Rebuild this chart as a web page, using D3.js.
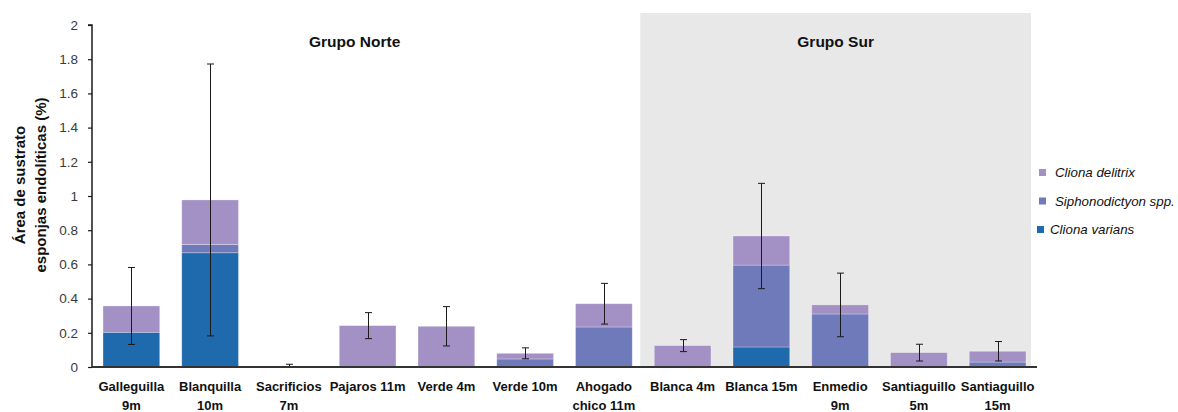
<!DOCTYPE html>
<html>
<head>
<meta charset="utf-8">
<script src="https://cdn.jsdelivr.net/npm/d3@7"></script>
<style>
  html, body { margin: 0; padding: 0; background: #fff; }
  svg { display: block; font-family: "Liberation Sans", Arial, sans-serif; }
</style>
</head>
<body>
<svg id="chart" width="1178" height="412"></svg>
<script>
// Sites (two-line labels split on "|")
const categories = [
  "Galleguilla|9m", "Blanquilla|10m", "Sacrificios|7m", "Pajaros 11m",
  "Verde 4m", "Verde 10m", "Ahogado|chico 11m", "Blanca 4m",
  "Blanca 15m", "Enmedio|9m", "Santiaguillo|5m", "Santiaguillo|15m"
];

// Endolithic sponge cover (%) per species
const clionaVarians   = [0.203, 0.668, 0.003, 0, 0, 0, 0, 0, 0.117, 0, 0, 0];
const siphonodictyon  = [0, 0.049, 0.002, 0, 0, 0.047, 0.234, 0, 0.479, 0.310, 0, 0.029];
const clionaDelitrix  = [0.154, 0.260, 0, 0.242, 0.238, 0.033, 0.136, 0.125, 0.170, 0.053, 0.084, 0.063];

// Error of the total cover
const totalError = [0.225, 0.795, 0.011, 0.076, 0.115, 0.032, 0.119, 0.035, 0.308, 0.186, 0.049, 0.057];

const yTicks = [0, 0.2, 0.4, 0.6, 0.8, 1, 1.2, 1.4, 1.6, 1.8, 2];

const seriesNames = ["Cliona varians", "Siphonodictyon spp.", "Cliona delitrix"];
const seriesColors = ["#1f69ad", "#6e7aba", "#a390c5"];

const groupNorth = "Grupo Norte";
const groupSouth = "Grupo Sur";
const southStart = "Blanca 4m";

const rows = categories.map((c, i) => ({
  cat: c,
  "Cliona varians": clionaVarians[i],
  "Siphonodictyon spp.": siphonodictyon[i],
  "Cliona delitrix": clionaDelitrix[i],
  err: totalError[i]
}));

const svg = d3.select("#chart");
const plotLeft = 92, plotRight = 1037, plotBottom = 367, plotTop = 25;

const x = d3.scaleBand().domain(categories).range([plotLeft, plotRight]).paddingInner(0.28).paddingOuter(0.14);
const y = d3.scaleLinear().domain([0, 2]).range([plotBottom, plotTop]);

// Shaded panel behind the southern group
const southIndex = categories.indexOf(southStart);
const southX = x(categories[southIndex]) - (x.step() - x.bandwidth()) / 2 - 3;
svg.append("rect")
  .attr("x", southX)
  .attr("y", y(2) - 12)
  .attr("width", plotRight - 6 - southX)
  .attr("height", y(0) - y(2) + 12)
  .attr("fill", "#e8e8e8");

// Stacked bars
const stack = d3.stack().keys(seriesNames);
const layers = stack(rows);
svg.append("g").selectAll("g")
  .data(layers)
  .join("g")
  .attr("fill", (d, i) => seriesColors[i])
  .selectAll("rect")
  .data(d => d)
  .join("rect")
  .attr("x", d => x(d.data.cat))
  .attr("width", x.bandwidth())
  .attr("y", d => y(d[1]))
  .attr("height", d => Math.max(0, y(d[0]) - y(d[1])))
  .attr("stroke", "rgba(255,255,255,0.35)")
  .attr("stroke-width", 0.8);

// Error bars centred on the stacked total
const eb = svg.append("g").attr("stroke", "#1a1a1a").attr("stroke-width", 1);
rows.forEach(r => {
  const total = seriesNames.reduce((s, k) => s + r[k], 0);
  const cx = Math.round(x(r.cat) + x.bandwidth() / 2) + 0.5;
  const y1 = y(total + r.err), y0 = y(Math.max(0, total - r.err));
  eb.append("line").attr("x1", cx).attr("x2", cx).attr("y1", y1).attr("y2", y0);
  eb.append("line").attr("x1", cx - 3.5).attr("x2", cx + 3.5).attr("y1", y1).attr("y2", y1);
  eb.append("line").attr("x1", cx - 3.5).attr("x2", cx + 3.5).attr("y1", y0).attr("y2", y0);
});

// Y axis
const yAxis = d3.axisLeft(y)
  .tickValues(yTicks)
  .tickSize(4)
  .tickPadding(10)
  .tickFormat(d => String(+d.toFixed(1)));
const gy = svg.append("g").attr("transform", `translate(${plotLeft},0)`).call(yAxis);
gy.select(".domain").attr("stroke", "#1a1a1a").attr("stroke-width", 1.5).attr("d", `M-4,${y(2)}H0V${y(0)}`);
gy.selectAll(".tick line").attr("stroke", "#1a1a1a").attr("stroke-width", 1.2);
gy.selectAll(".tick text")
  .attr("fill", "#3a3a3a")
  .style("font-size", "13.5px")
  .style("font-family", "'Liberation Sans', Arial, sans-serif");

// X axis line
const xAxis = d3.axisBottom(x).tickSize(0).tickFormat("");
const gx = svg.append("g").attr("transform", `translate(0,${plotBottom})`).call(xAxis);
gx.select(".domain").attr("stroke", "#333").attr("stroke-width", 1.8).attr("d", `M${plotLeft},0H${plotRight}`);

// Category labels
const xl = svg.append("g")
  .attr("font-size", "13px")
  .attr("font-weight", "bold")
  .attr("fill", "#111")
  .attr("text-anchor", "middle");
categories.forEach(c => {
  const cx = x(c) + x.bandwidth() / 2;
  const t = xl.append("text").attr("x", cx).attr("y", 391);
  c.split("|").forEach((part, i) => {
    t.append("tspan").attr("x", cx).attr("dy", i === 0 ? 0 : 19).text(part);
  });
});

// Group titles
const northCats = categories.slice(0, southIndex);
const southCats = categories.slice(southIndex);
const midOf = cats => (x(cats[0]) + x(cats[cats.length - 1]) + x.bandwidth()) / 2;
svg.append("text")
  .attr("x", midOf(northCats) - 13).attr("y", 47)
  .attr("text-anchor", "middle").attr("font-size", "15.5px").attr("font-weight", "bold").attr("fill", "#111")
  .text(groupNorth);
svg.append("text")
  .attr("x", midOf(southCats) - 4.5).attr("y", 47)
  .attr("text-anchor", "middle").attr("font-size", "15.5px").attr("font-weight", "bold").attr("fill", "#111")
  .text(groupSouth);

// Y axis title
const yt = svg.append("text")
  .attr("transform", "translate(25,185) rotate(-90)")
  .attr("text-anchor", "middle")
  .attr("font-size", "15px")
  .attr("font-weight", "bold")
  .attr("fill", "#111");
yt.append("tspan").attr("x", 0).attr("dy", 0).text("Área de sustrato");
yt.append("tspan").attr("x", 0).attr("dy", 21).text("esponjas endolíticas (%)");

// Legend (top entry is the top of the stack)
const legendItems = [
  { name: "Cliona delitrix", color: seriesColors[2], mx: 1039, tx: 1055 },
  { name: "Siphonodictyon spp.", color: seriesColors[1], mx: 1039, tx: 1055 },
  { name: "Cliona varians", color: seriesColors[0], mx: 1037, tx: 1050 }
];
const lg = svg.append("g");
legendItems.forEach((d, i) => {
  const cy = 172.5 + i * 28.5;
  lg.append("rect").attr("x", d.mx).attr("y", cy - 3.5).attr("width", 7).attr("height", 7).attr("fill", d.color);
  lg.append("text").attr("x", d.tx).attr("y", cy + 4.5)
    .attr("font-size", "13.3px").attr("font-style", "italic").attr("fill", "#111")
    .text(d.name);
});
</script>
</body>
</html>
